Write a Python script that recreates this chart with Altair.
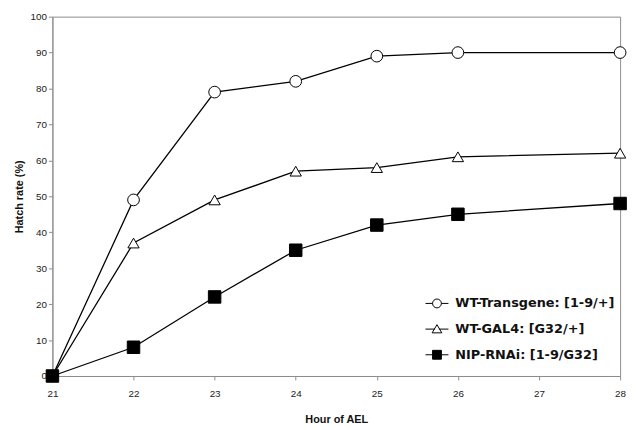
import altair as alt
import pandas as pd

hours = [21, 22, 23, 24, 25, 26, 28]
series_names = ["WT-Transgene: [1-9/+]", "WT-GAL4: [G32/+]", "NIP-RNAi: [1-9/G32]"]
wt_transgene = [0, 49, 79, 82, 89, 90, 90]
wt_gal4 = [0, 37, 49, 57, 58, 61, 62]
nip_rnai = [0, 8, 22, 35, 42, 45, 48]
x_ticks = [21, 22, 23, 24, 25, 26, 27, 28]
y_ticks = [0, 10, 20, 30, 40, 50, 60, 70, 80, 90, 100]

rows = []
for name, vals in zip(series_names, [wt_transgene, wt_gal4, nip_rnai]):
    for h, v in zip(hours, vals):
        rows.append({"hour": h, "rate": v, "series": name})
df = pd.DataFrame(rows)

FONT = "Liberation Sans, Arial"
LFONT = "DejaVu Sans, Liberation Sans"
GRAY = "#8c8c8c"

x = alt.X("hour:Q", scale=alt.Scale(domain=[21, 28], nice=False),
          axis=alt.Axis(values=x_ticks, title="Hour of AEL", grid=False,
                        domainColor=GRAY, tickColor=GRAY, tickSize=4,
                        labelFont=FONT, labelFontSize=10, labelColor="#222",
                        labelPadding=9, titleFont=FONT, titleFontSize=11,
                        titleFontWeight="bold", titlePadding=15, titleColor="#111",
                        labelFlush=False))
y = alt.Y("rate:Q", scale=alt.Scale(domain=[0, 100], nice=False),
          axis=alt.Axis(values=y_ticks, title="Hatch rate (%)", grid=False,
                        domainColor=GRAY, tickColor=GRAY, tickSize=4,
                        labelFont=FONT, labelFontSize=10, labelColor="#222",
                        labelPadding=2, titleFont=FONT, titleFontSize=11,
                        titleFontWeight="bold", titlePadding=6, titleColor="#111",
                        labelFlush=False))

lines = alt.Chart(df).mark_line(color="black", strokeWidth=1.3).encode(
    x=x, y=y, detail="series:N", order="hour:Q")

shapes = ["circle", "triangle-up", "square"]
fills = ["white", "white", "black"]
strokes = ["black", "black", "black"]
sizes = [140, 130, 160]
point_layers = []
for name, shp, fl, sz in zip(series_names, shapes, fills, sizes):
    point_layers.append(
        alt.Chart(df).transform_filter(alt.datum.series == name)
        .mark_point(shape=shp, filled=True, fill=fl, stroke="black",
                    strokeWidth=1, size=sz, opacity=1)
        .encode(x=x, y=y))

legend_paths = [
    "M-2.6,0H-1M1,0H2.6M1,0A1,1 0 1,1 -1,0A1,1 0 1,1 1,0Z",
    "M-2.6,0H-0.45M0.45,0H2.6M0,-1L1.1,0.85L-1.1,0.85Z",
    "M-2.6,0H-1M1,0H2.6M-1,-1H1V1H-1Z",
]
legend_props = dict(title=None, orient="none", legendX=383, legendY=284,
                    symbolSize=80, symbolOpacity=1, symbolStrokeWidth=1,
                    labelFont=LFONT, labelFontSize=13,
                    labelFontWeight="bold", labelColor="#111",
                    labelOffset=12, rowPadding=12, padding=0,
                    labelLimit=300)
legend_layer = alt.Chart(df).mark_point(filled=True, strokeWidth=1, size=0).encode(
    x=x, y=y,
    shape=alt.Shape("series:N", scale=alt.Scale(domain=series_names, range=legend_paths),
                    legend=alt.Legend(**legend_props)),
    fill=alt.Fill("series:N", scale=alt.Scale(domain=series_names, range=fills),
                  legend=alt.Legend(**legend_props)),
    stroke=alt.Stroke("series:N", scale=alt.Scale(domain=series_names, range=strokes),
                      legend=alt.Legend(**legend_props)),
)

chart = alt.layer(legend_layer, lines, *point_layers).properties(
    width=575, height=364,
    autosize=alt.AutoSizeParams(type="none"),
    padding={"left": 45, "top": 6, "right": 8, "bottom": 56},
    background="white",
).configure_view(stroke=GRAY, strokeWidth=1)

chart.save("out.html", embed_options={"renderer": "svg", "actions": False})
